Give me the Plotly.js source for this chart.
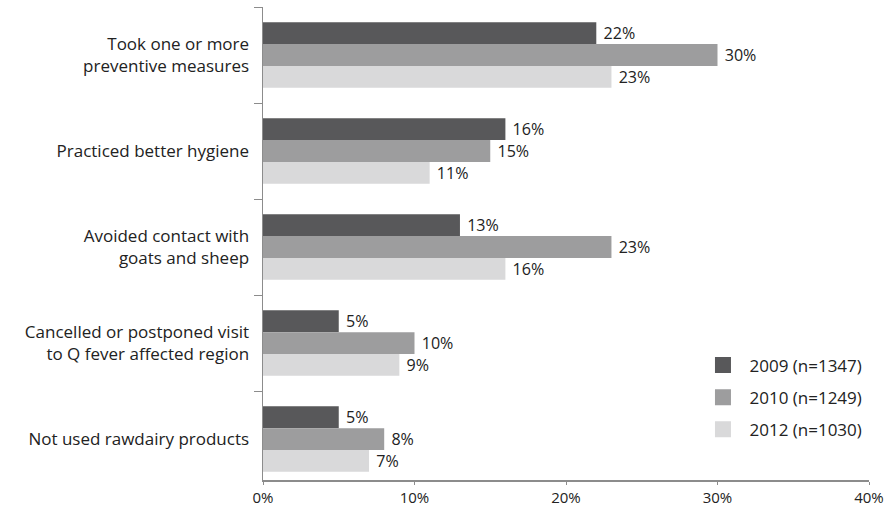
<!DOCTYPE html>
<html>
<head>
<meta charset="utf-8">
<script src="https://cdn.plot.ly/plotly-3.0.1.min.js"></script>
<style>html,body{margin:0;padding:0;background:#fff;}#chart{width:887px;height:509px;}</style>
</head>
<body>
<div id="chart"></div>
<script>
const categories = [
  "Took one or more<br>preventive measures",
  "Practiced better hygiene",
  "Avoided contact with<br>goats and sheep",
  "Cancelled or postponed visit<br>to Q fever affected region",
  "Not used rawdairy products"
];
const seriesNames = ["2009 (n=1347)", "2010 (n=1249)", "2012 (n=1030)"];
const v2009 = [22, 16, 13, 5, 5];
const v2010 = [30, 15, 23, 10, 8];
const v2012 = [23, 11, 16, 9, 7];
const xTicks = [0, 10, 20, 30, 40];
const xTickLabels = ["0%", "10%", "20%", "30%", "40%"];

const colors = ["#58585a", "#9d9d9e", "#d9d9da"];
const allValues = [v2009, v2010, v2012];
const FONT = "Open Sans, sans-serif";

const barTraces = allValues.map((vals, i) => ({
  type: "bar",
  orientation: "h",
  name: seriesNames[i],
  legendgroup: "g" + i,
  showlegend: false,
  y: categories,
  x: vals,
  text: vals.map(v => " " + v + "%"),
  textposition: "outside",
  textfont: {family: FONT, size: 17, color: "#222"},
  cliponaxis: false,
  marker: {color: colors[i], line: {width: 0}},
  hoverinfo: "skip"
}));

// legend-only entries (square swatches)
const legendTraces = seriesNames.map((nm, i) => ({
  type: "scatter",
  mode: "markers",
  name: nm,
  legendgroup: "g" + i,
  showlegend: true,
  x: [null],
  y: [categories[0]],
  marker: {symbol: "square", size: 16, color: colors[i], line: {width: 0}},
  hoverinfo: "skip"
}));

const layout = {
  width: 887,
  height: 509,
  margin: {l: 263, r: 18, t: 7, b: 29},
  paper_bgcolor: "#fff",
  plot_bgcolor: "#fff",
  barmode: "group",
  bargap: 0.32,
  bargroupgap: 0,
  font: {family: FONT, size: 17, color: "#222"},
  showlegend: true,
  legend: {
    x: 0.7153, xanchor: "left",
    y: 0.28, yanchor: "top",
    font: {family: FONT, size: 17, color: "#222"},
    bgcolor: "rgba(0,0,0,0)",
    traceorder: "grouped",
    tracegroupgap: 7,
    itemsizing: "trace",
    itemwidth: 43
  },
  xaxis: {
    range: [0, 40],
    tickvals: xTicks,
    ticktext: xTickLabels,
    showgrid: false,
    zeroline: false,
    showline: true,
    linecolor: "#8c8c8c",
    linewidth: 1.5,
    ticks: "outside",
    ticklen: 3,
    tickcolor: "#8c8c8c",
    tickfont: {family: FONT, size: 15, color: "#222"},
    fixedrange: true
  },
  yaxis: {
    range: [4.427, -0.5],
    type: "category",
    showgrid: false,
    zeroline: false,
    showline: true,
    linecolor: "#8c8c8c",
    linewidth: 1.5,
    ticks: "outside",
    tickson: "boundaries",
    ticklen: 8,
    tickcolor: "#8c8c8c",
    tickfont: {family: FONT, size: 17, color: "#222"},
    ticklabelstandoff: 9,
    fixedrange: true
  }
};

Plotly.newPlot("chart", barTraces.concat(legendTraces), layout, {displayModeBar: false, staticPlot: true});
</script>
</body>
</html>
